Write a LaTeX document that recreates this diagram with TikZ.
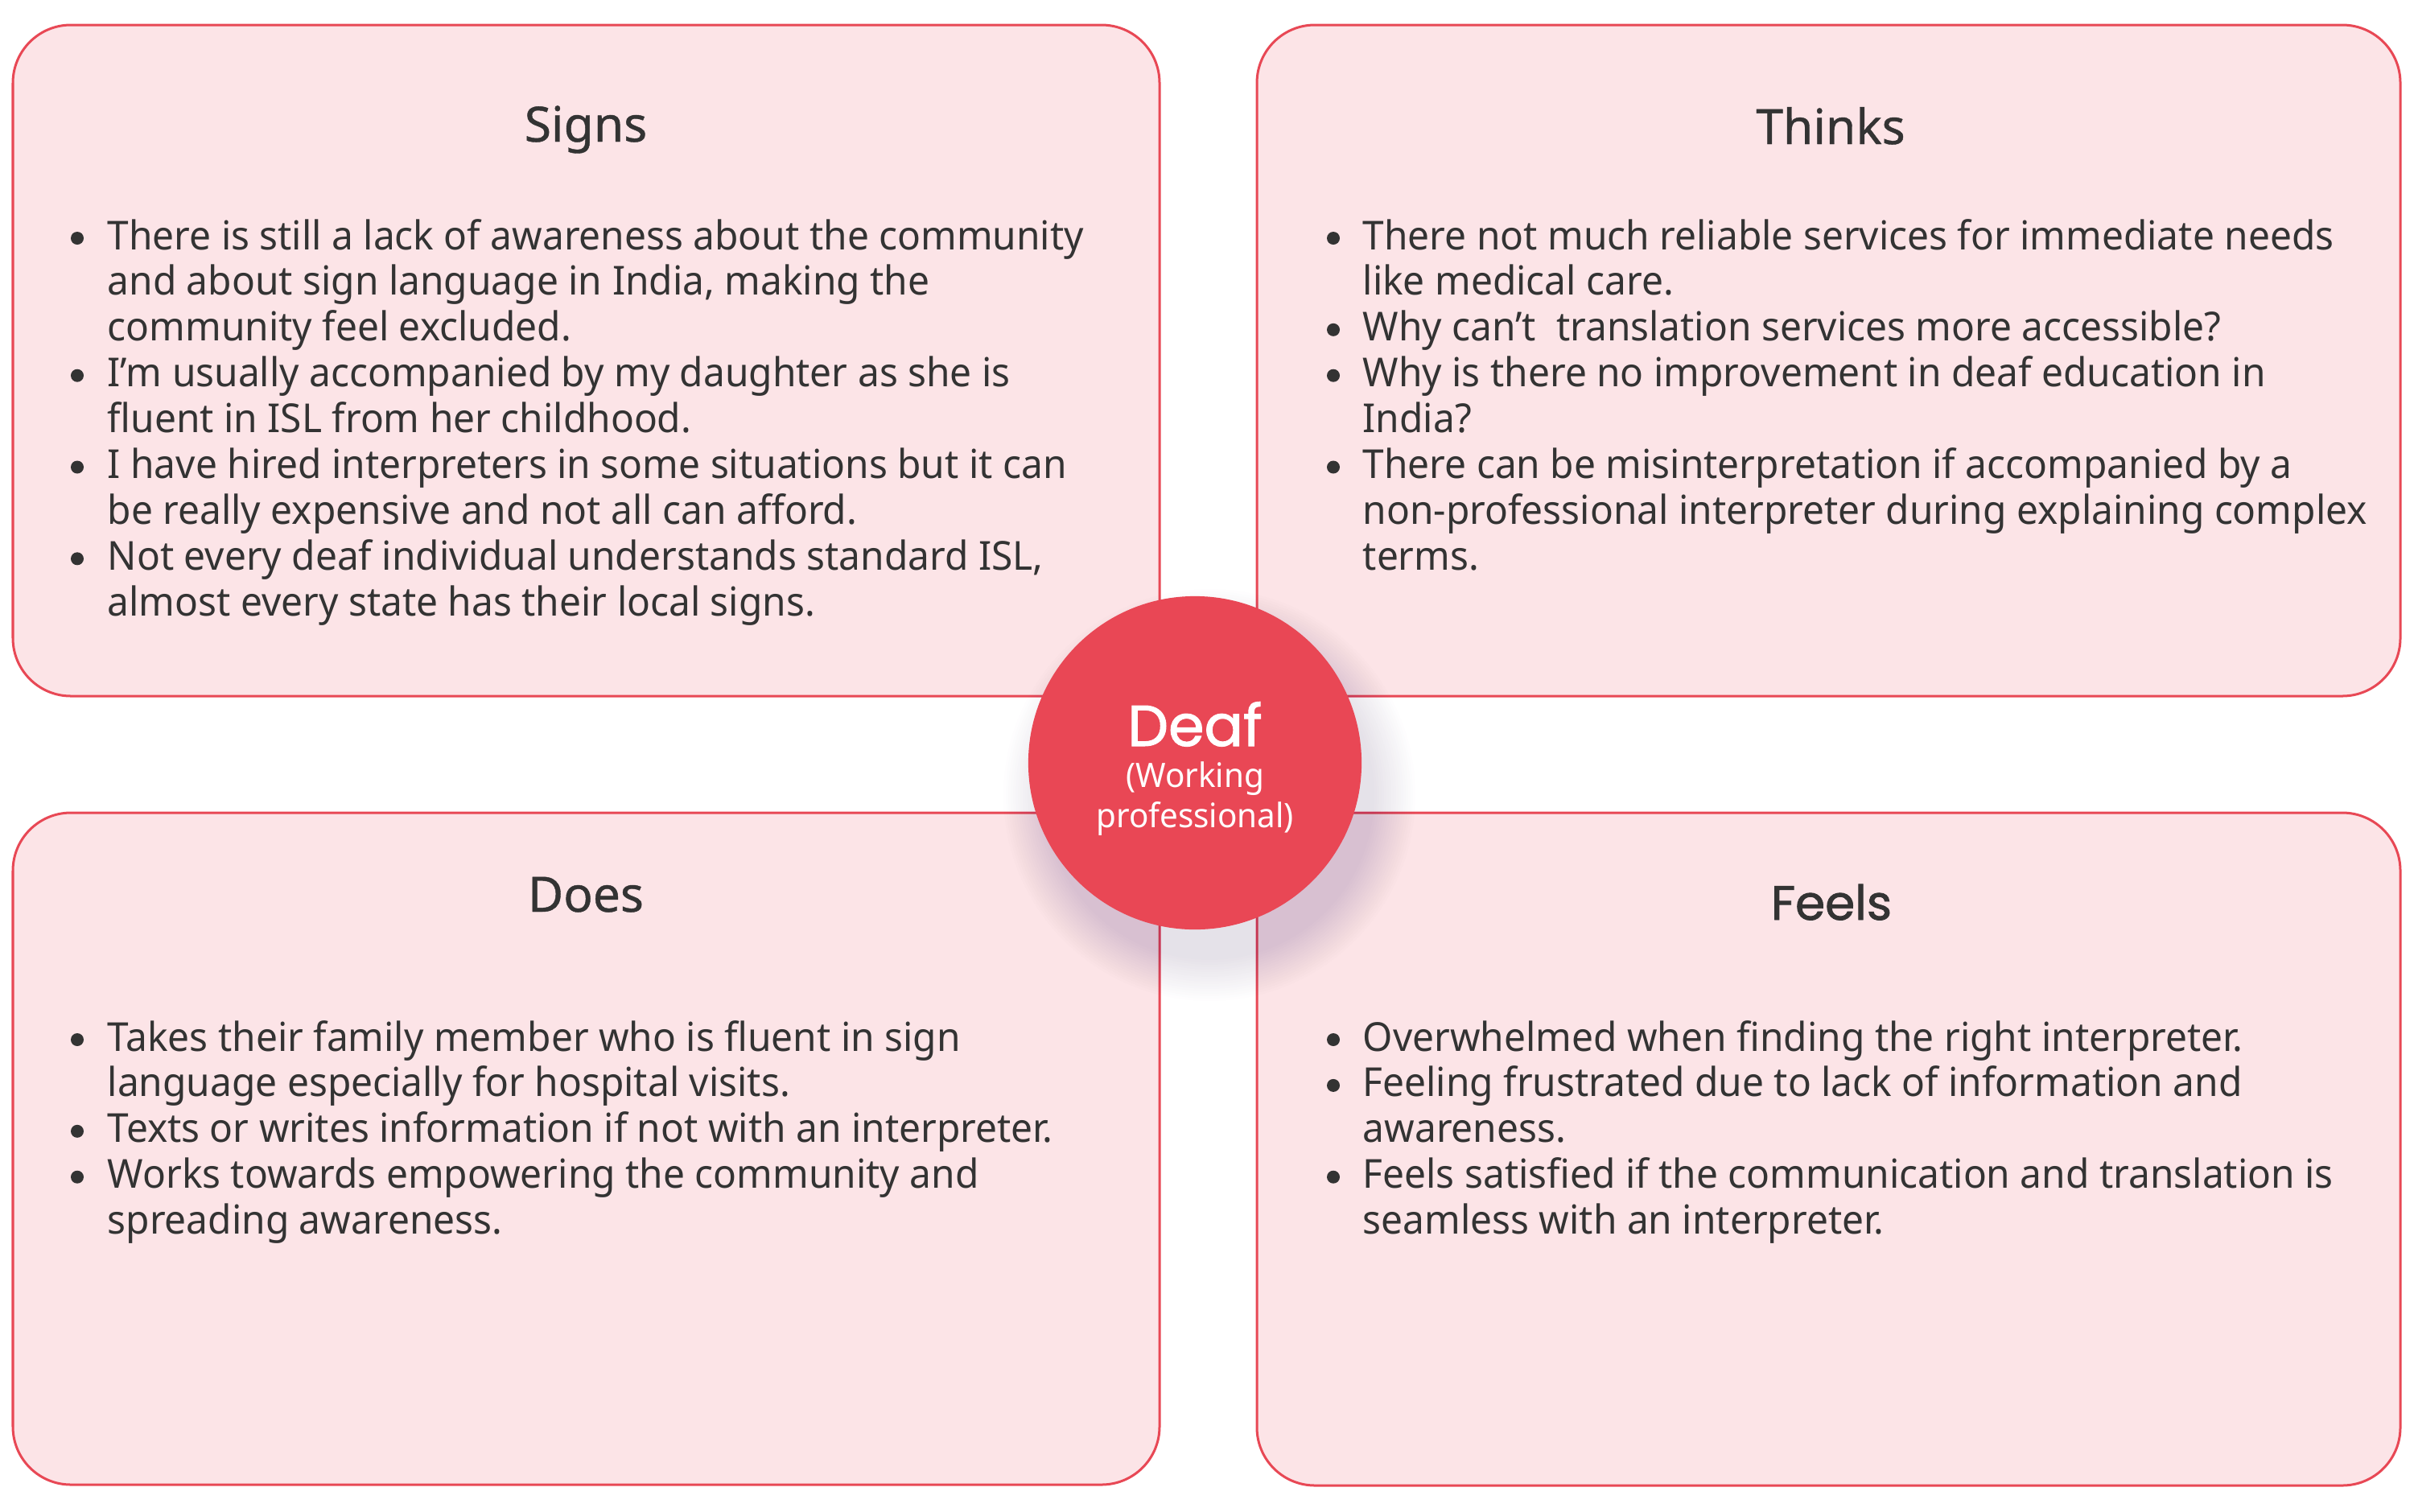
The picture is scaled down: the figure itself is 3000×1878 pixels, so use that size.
\documentclass[tikz,border=0pt]{standalone}
\usepackage{fontspec}
\setmainfont{Noto Sans}[FakeStretch=0.965]
\newfontfamily\popfont[FakeBold=1.4]{Poppins}
\newfontfamily\headfont[FakeBold=0.7]{Noto Sans}
\definecolor{boxfill}{HTML}{FCE4E7}
\definecolor{boxline}{HTML}{E84855}
\definecolor{circfill}{HTML}{E94755}
\definecolor{txt}{HTML}{333333}
\definecolor{shadowc}{HTML}{4A3060}
\tikzset{
  panel/.style={draw=boxline, fill=boxfill, line width=0.03cm, rounded corners=0.72cm},
  headtxt/.style={anchor=base, inner sep=0pt, text=txt, font=\headfont\fontsize{17.2pt}{20pt}\selectfont},
  feeltxt/.style={anchor=base, inner sep=0pt, text=txt, font=\popfont\fontsize{17.0pt}{20pt}\selectfont},
  bodytxt/.style={anchor=base west, inner sep=0pt, text=txt, font=\fontsize{14.1pt}{16.19pt}\selectfont},
  subtxt/.style={anchor=base, inner sep=0pt, text=white, font=\fontsize{11.9pt}{14.2pt}\selectfont},
  dot/.style={fill=txt}
}
\newcommand{\bul}[2]{\fill[dot] (#1,#2-14) circle[radius=0.08cm];}
\begin{document}
\begin{tikzpicture}[x=0.01cm,y=-0.01cm]
\useasboundingbox (0,0) rectangle (3000,1878);
% panels
\draw[panel] (16,31) rectangle (1441,865);
\draw[panel] (1562,31) rectangle (2983,865);
\draw[panel] (16,1010) rectangle (1441,1845);
\draw[panel] (1562,1010) rectangle (2983,1846);
% shadow
\foreach \r in {205,208,...,256} {
  \fill[shadowc, opacity=0.0075] (1503,988) circle[radius={\r*0.01cm}];
}
% center circle
\node[circle, fill=circfill, minimum size=4.14cm, inner sep=0pt] (deaf) at (1485,948) {};
\node[anchor=base, inner sep=0pt, text=white, font=\popfont\fontsize{20.4pt}{24pt}\selectfont] (deaft) at (1485,927) {Deaf};
\node[subtxt] (deafs1) at (1485,978) {(Working};
\node[subtxt] (deafs2) at (1485,1028) {professional)};
% titles
\node[headtxt] (signs) at (728,176) {Signs};
\node[headtxt] (thinks) at (2275,179) {Thinks};
\node[headtxt] (does) at (728,1133) {Does};
\node[feeltxt] (feels) at (2276,1143) {Feels};
% signs body
\node[bodytxt] (signsb) at (133,310) {\begin{tabular}[t]{@{}l@{}}
There is still a lack of awareness about the community\\
and about sign language in India, making the\\
community feel excluded.\\
I’m usually accompanied by my daughter as she is\\
fluent in ISL from her childhood.\\
I have hired interpreters in some situations but it can\\
be really expensive and not all can afford.\\
Not every deaf individual understands standard ISL,\\
almost every state has their local signs.
\end{tabular}};
\bul{96}{310}\bul{96}{480.7}\bul{96}{594.5}\bul{96}{708.3}
% thinks body
\node[bodytxt] (thinksb) at (1693,310) {\begin{tabular}[t]{@{}l@{}}
There not much reliable services for immediate needs\\
like medical care.\\
Why can’t~ translation services more accessible?\\
Why is there no improvement in deaf education in\\
India?\\
There can be misinterpretation if accompanied by a\\
non-professional interpreter during explaining complex\\
terms.
\end{tabular}};
\bul{1657}{310}\bul{1657}{423.8}\bul{1657}{480.7}\bul{1657}{594.5}
% does body
\node[bodytxt] (doesb) at (133,1306) {\begin{tabular}[t]{@{}l@{}}
Takes their family member who is fluent in sign\\
language especially for hospital visits.\\
Texts or writes information if not with an interpreter.\\
Works towards empowering the community and\\
spreading awareness.
\end{tabular}};
\bul{96}{1306}\bul{96}{1419.8}\bul{96}{1476.7}
% feels body
\node[bodytxt] (feelsb) at (1693,1306) {\begin{tabular}[t]{@{}l@{}}
Overwhelmed when finding the right interpreter.\\
Feeling frustrated due to lack of information and\\
awareness.\\
Feels satisfied if the communication and translation is\\
seamless with an interpreter.
\end{tabular}};
\bul{1657}{1306}\bul{1657}{1362.9}\bul{1657}{1476.7}
\end{tikzpicture}
\end{document}
